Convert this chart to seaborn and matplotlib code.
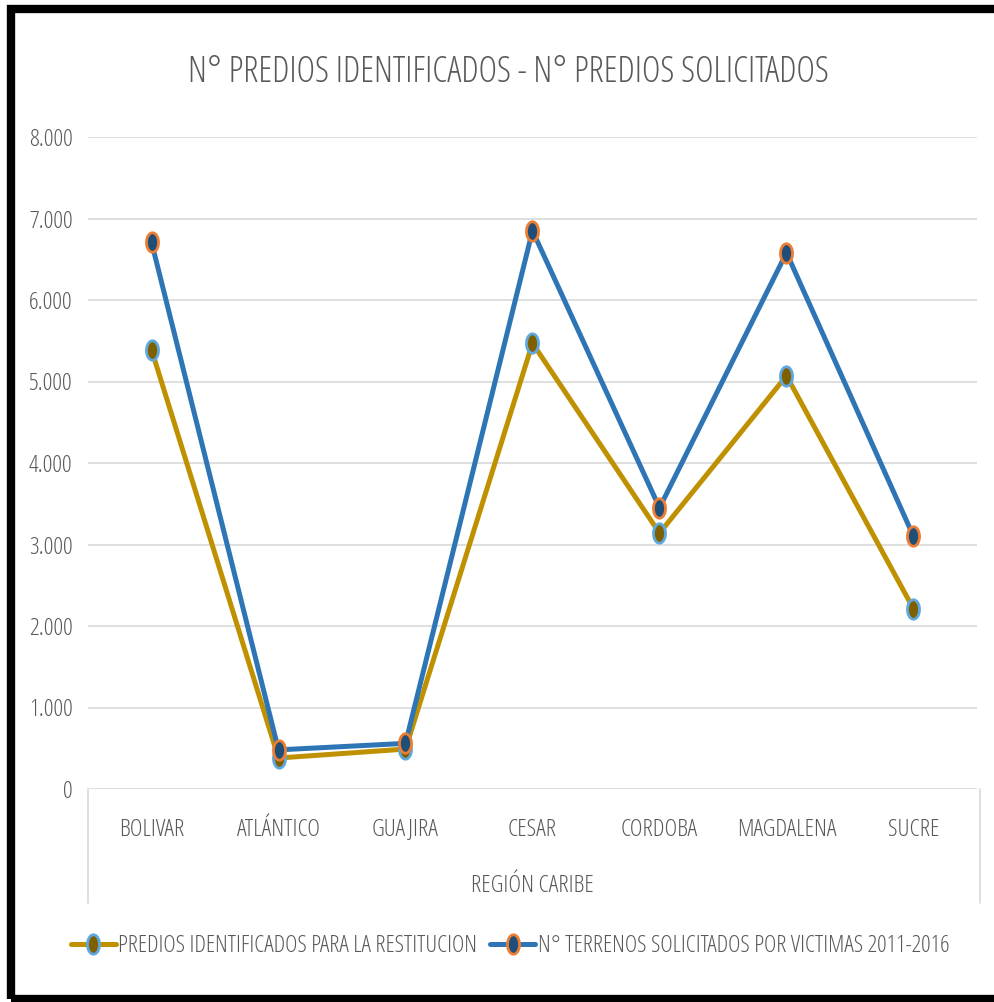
import matplotlib
matplotlib.use("Agg")
import matplotlib.pyplot as plt
import numpy as np
from matplotlib.lines import Line2D
from matplotlib.patches import Rectangle
from matplotlib.path import Path
from matplotlib.ticker import FuncFormatter
import seaborn as sns
import pandas as pd

categories = ["BOLIVAR", "ATLÁNTICO", "GUAJIRA", "CESAR", "CORDOBA", "MAGDALENA", "SUCRE"]
identificados = [5390, 380, 490, 5470, 3140, 5070, 2210]
solicitados = [6710, 480, 560, 6850, 3450, 6580, 3100]
series_names = ["PREDIOS IDENTIFICADOS PARA LA RESTITUCION",
                "N° TERRENOS SOLICITADOS POR VICTIMAS 2011-2016"]
yticks = [0, 1000, 2000, 3000, 4000, 5000, 6000, 7000, 8000]

sns.set_style("white")
plt.rcParams["font.family"] = ["Open Sans", "DejaVu Sans"]
plt.rcParams["font.stretch"] = "condensed"
plt.rcParams["font.weight"] = "light"

df = pd.DataFrame({
    "region": categories * 2,
    "valor": identificados + solicitados,
    "serie": [series_names[0]] * len(categories) + [series_names[1]] * len(categories),
})

line_colors = {series_names[0]: "#bf9000", series_names[1]: "#2e75b6"}
face_colors = {series_names[0]: "#7f6000", series_names[1]: "#1f4e79"}
edge_colors = {series_names[0]: "#5ea8e0", series_names[1]: "#ed7d31"}
TXT = "#595959"

# narrow (vertically elongated) ellipse marker shape
_t = np.linspace(0, 2 * np.pi, 41)
ellipse = Path(np.column_stack([0.62 * np.cos(_t), np.sin(_t)]), closed=True)
MS = 14
MEW = 2.0

fig = plt.figure(figsize=(9.95, 10.02), dpi=100)
ax = fig.add_axes([88 / 995, 1 - 789 / 1002, (977 - 88) / 995, (789 - 137) / 1002])

for name in series_names:
    sub = df[df["serie"] == name]
    sns.lineplot(data=sub, x="region", y="valor", ax=ax, color=line_colors[name],
                 linewidth=3.6, marker=ellipse, markersize=MS,
                 markerfacecolor=face_colors[name], markeredgecolor=edge_colors[name],
                 markeredgewidth=MEW, sort=False, label=name, legend=False)

ax.set_xlim(-0.5, len(categories) - 0.5)
ax.set_ylim(0, 8000)
ax.set_yticks(yticks)
ax.yaxis.set_major_formatter(FuncFormatter(lambda v, p: f"{int(v):,}".replace(",", ".")))
ax.grid(axis="y", color="#d9d9d9", linewidth=1.2)
ax.set_axisbelow(True)
for s in ax.spines.values():
    s.set_visible(False)
ax.tick_params(axis="both", length=0, colors=TXT, labelsize=17.5)
ax.tick_params(axis="y", pad=11)
ax.tick_params(axis="x", pad=21)
ax.set_ylabel("")
ax.set_xlabel("REGIÓN CARIBE", fontsize=17.5, color=TXT, labelpad=23)

fig.text(508 / 995, 1 - 72 / 1002, "N° PREDIOS IDENTIFICADOS - N° PREDIOS SOLICITADOS",
         ha="center", va="center", fontsize=25.7, color=TXT)

# category axis box edges
for xp in (88, 980):
    fig.add_artist(Line2D([xp / 995, xp / 995], [1 - 789 / 1002, 1 - 903 / 1002],
                          transform=fig.transFigure, color="#d9d9d9", linewidth=1.2))

handles = [Line2D([0], [0], color=line_colors[n], linewidth=3.6, marker=ellipse, markersize=MS,
                  markerfacecolor=face_colors[n], markeredgecolor=edge_colors[n],
                  markeredgewidth=MEW) for n in series_names]
leg = fig.legend(handles, series_names, loc="center", bbox_to_anchor=(510 / 995, 1 - 946 / 1002),
                 ncol=2, frameon=False, fontsize=17.1, handlelength=1.9, handletextpad=0.1,
                 columnspacing=0.55)
for t in leg.get_texts():
    t.set_color(TXT)

# outer black frame
fig.add_artist(Rectangle((11 / 995, 1 - 998.5 / 1002), 1.2, (998.5 - 9) / 1002,
                         transform=fig.transFigure, fill=False, edgecolor="black",
                         linewidth=6))

fig.savefig("out.png", dpi=100)
